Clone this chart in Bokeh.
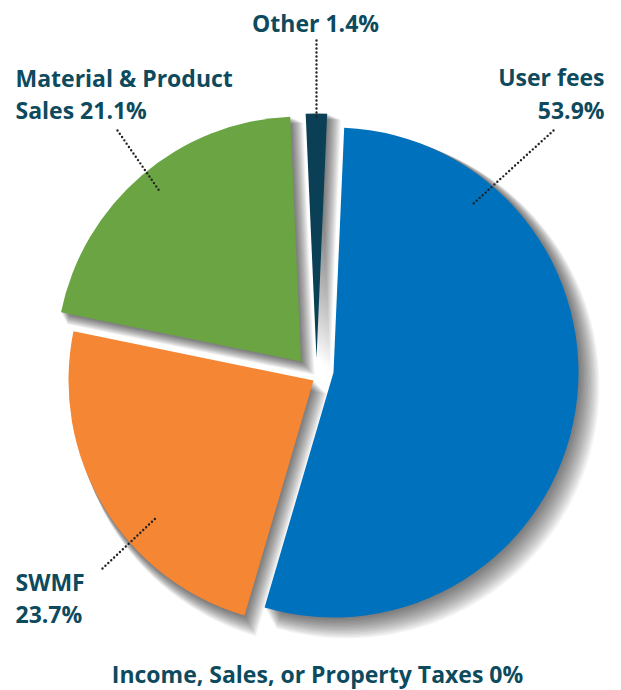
import numpy as np
from bokeh.plotting import figure
from bokeh.models import Range1d, ColumnDataSource
from bokeh.core.properties import value
from bokeh.embed import file_html
from bokeh.resources import INLINE

# ---- data ----
categories = ["User fees", "SWMF", "Material & Product Sales", "Other"]
shares = [53.9, 23.7, 21.1, 1.4]
colors = ["#0071bc", "#f58634", "#6ba543", "#0b3f55"]
zero_category = "Income, Sales, or Property Taxes"
zero_share = 0

# ---- layout / style ----
W, H = 621, 690
TXT = "#0d4a5d"
FONT = value("Open Sans")
FS = "23px"
R = 245
theta0 = 87.5  # start angle (deg) of first slice, drawn clockwise
cx, cy = 320, H - 370
# per-slice explode offsets (x, y) in pixels
explode = [(13, -2), (-7, -10), (-19.5, 9), (-4, 12)]
TEXT_SHIFT = -9


def sy(v):
    return H - v


p = figure(width=W, height=H, x_range=Range1d(0, W), y_range=Range1d(0, H),
           output_backend="svg", toolbar_location=None, min_border=0)
p.axis.visible = False
p.grid.visible = False
p.outline_line_color = None
p.background_fill_color = "white"

vals = np.array(shares, dtype=float)
spans = vals / vals.sum() * 360.0
cum = np.concatenate([[0], np.cumsum(spans)])
starts = np.radians(theta0 - cum[1:])
ends = np.radians(theta0 - cum[:-1])
xs = np.array([cx + e[0] for e in explode])
ys = np.array([cy + e[1] for e in explode])

# soft drop shadows
for j in range(1, 16):
    p.wedge(x=xs + j * 0.9, y=ys - j * 0.9, radius=R + j * 0.5,
            start_angle=starts, end_angle=ends,
            fill_color="black", fill_alpha=0.042, line_color=None)

src = ColumnDataSource(dict(x=xs, y=ys, start=starts, end=ends, color=colors,
                            cat=categories, share=shares))
p.wedge(x="x", y="y", radius=R, start_angle="start", end_angle="end",
        fill_color="color", line_color=None, source=src)

# leader lines (dotted)
leaders = [
    ((553, 130), (473, 203)),   # User fees
    ((102, 568), (156, 517)),   # SWMF
    ((117, 130), (160, 192)),   # Material
    ((316, 40), (316, 120)),    # Other
]
for (a, b) in leaders:
    p.line([a[0], b[0]], [sy(a[1]), sy(b[1])], line_color="#222222",
           line_width=2.4, line_dash="0 4", line_cap="round")

# labels
lab = [
    (f"{categories[0]}", 604, 85, "right"),
    (f"{shares[0]}%", 604, 118, "right"),
    (f"{categories[1]}", 15, 590, "left"),
    (f"{shares[1]}%", 15, 622, "left"),
    ("Material & Product", 15, 86, "left"),
    (f"Sales {shares[2]}%", 15, 118, "left"),
    (f"{categories[3]} {shares[3]}%", 315, 31, "center"),
    (f"{zero_category} {zero_share}%", 317, 682, "center"),
]
for t, x, y, al in lab:
    p.text(x=[x], y=[sy(y + TEXT_SHIFT)], text=[t], text_font=FONT, text_font_size=FS,
           text_font_style="bold", text_color=TXT, text_align=al,
           text_baseline="alphabetic")

open("out.html", "w").write(file_html(p, INLINE))
